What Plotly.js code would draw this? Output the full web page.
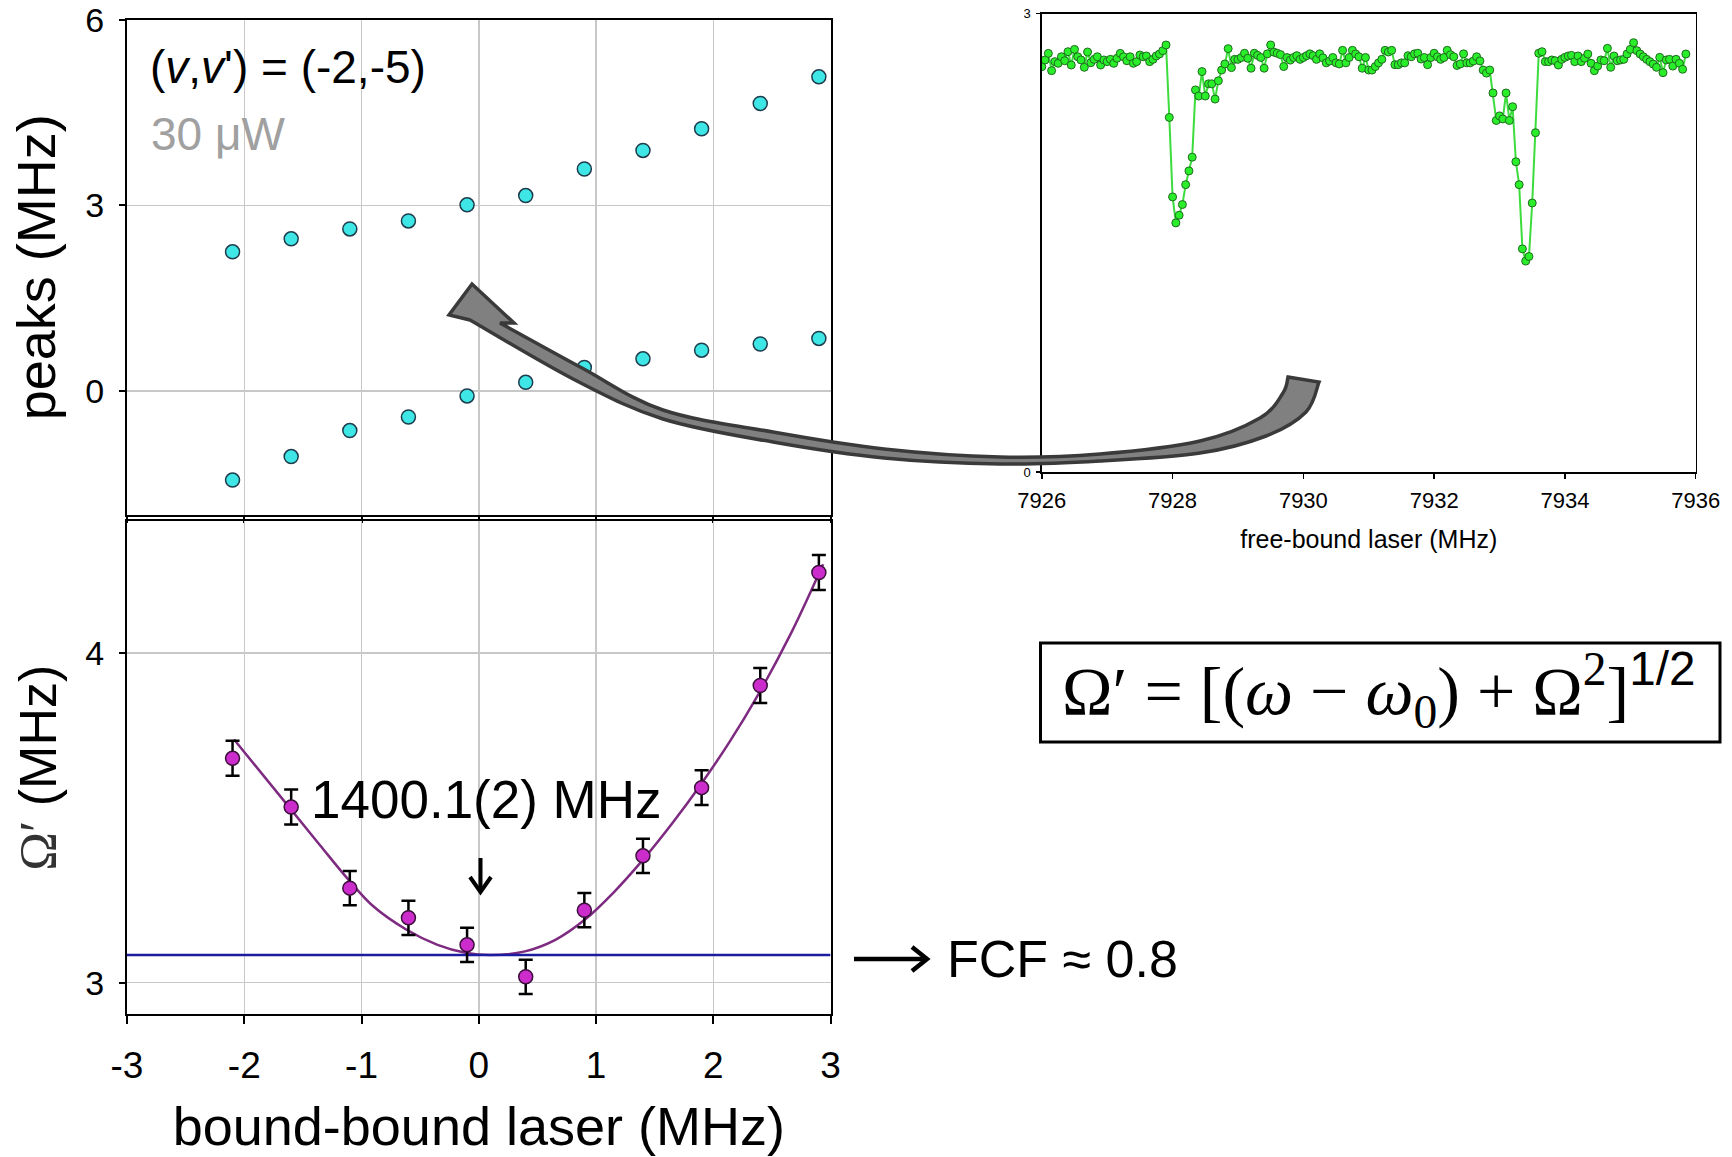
<!DOCTYPE html>
<html>
<head>
<meta charset="utf-8">
<script src="https://cdn.plot.ly/plotly-3.0.1.min.js"></script>
<style>html,body{margin:0;padding:0;background:#fff;}#chart{width:1732px;height:1157px;}</style>
</head>
<body>
<div id="chart"></div>
<script>
// ---------------- data ----------------
const bbDetuning = [-2.1, -1.6, -1.1, -0.6, -0.1, 0.4, 0.9, 1.4, 1.9, 2.4, 2.9];
const peakUpper  = [2.25, 2.46, 2.62, 2.75, 3.01, 3.16, 3.59, 3.89, 4.24, 4.65, 5.08];
const peakLower  = [-1.44, -1.06, -0.64, -0.42, -0.08, 0.14, 0.38, 0.52, 0.66, 0.76, 0.85];
const omegaPrime    = [3.681, 3.533, 3.287, 3.197, 3.115, 3.018, 3.220, 3.385, 3.592, 3.902, 4.245];
const omegaPrimeErr = [0.053, 0.053, 0.052, 0.052, 0.052, 0.052, 0.052, 0.052, 0.053, 0.053, 0.053];
const fitX = [-2.087, -1.616, -1.356, -1.110, -0.900, -0.612, -0.352, -0.114, 0.105, 0.393, 0.653, 0.900, 1.155, 1.397, 1.658, 1.886, 2.137, 2.379, 2.662, 2.936];
const fitY = [3.738, 3.532, 3.418, 3.312, 3.232, 3.160, 3.115, 3.091, 3.084, 3.095, 3.130, 3.190, 3.276, 3.372, 3.488, 3.598, 3.730, 3.872, 4.060, 4.270];
const fcfLevel = 3.084;
const fcfSpan = [-3, 3];
const bbTickVals = [-3, -2, -1, 0, 1, 2, 3];
const bbTickText = ['-3', '-2', '-1', '0', '1', '2', '3'];

const freeBoundX = [
7926.00,7926.05,7926.10,7926.15,7926.20,7926.25,7926.30,7926.35,7926.40,7926.45,
7926.50,7926.55,7926.60,7926.65,7926.70,7926.75,7926.80,7926.85,7926.90,7926.95,
7927.00,7927.05,7927.10,7927.15,7927.20,7927.25,7927.30,7927.35,7927.40,7927.45,
7927.50,7927.55,7927.60,7927.65,7927.70,7927.75,7927.80,7927.85,7927.90,7927.95,
7928.00,7928.05,7928.10,7928.15,7928.20,7928.25,7928.30,7928.35,7928.40,7928.45,
7928.50,7928.55,7928.60,7928.65,7928.70,7928.75,7928.80,7928.85,7928.90,7928.95,
7929.00,7929.05,7929.10,7929.15,7929.20,7929.25,7929.30,7929.35,7929.40,7929.45,
7929.50,7929.55,7929.60,7929.65,7929.70,7929.75,7929.80,7929.85,7929.90,7929.95,
7930.00,7930.05,7930.10,7930.15,7930.20,7930.25,7930.30,7930.35,7930.40,7930.45,
7930.50,7930.55,7930.60,7930.65,7930.70,7930.75,7930.80,7930.85,7930.90,7930.95,
7931.00,7931.05,7931.10,7931.15,7931.20,7931.25,7931.30,7931.35,7931.40,7931.45,
7931.50,7931.55,7931.60,7931.65,7931.70,7931.75,7931.80,7931.85,7931.90,7931.95,
7932.00,7932.05,7932.10,7932.15,7932.20,7932.25,7932.30,7932.35,7932.40,7932.45,
7932.50,7932.55,7932.60,7932.65,7932.70,7932.75,7932.80,7932.85,7932.90,7932.95,
7933.00,7933.05,7933.10,7933.15,7933.20,7933.25,7933.30,7933.35,7933.40,7933.45,
7933.50,7933.55,7933.60,7933.65,7933.70,7933.75,7933.80,7933.85,7933.90,7933.95,
7934.00,7934.05,7934.10,7934.15,7934.20,7934.25,7934.30,7934.35,7934.40,7934.45,
7934.50,7934.55,7934.60,7934.65,7934.70,7934.75,7934.80,7934.85,7934.90,7934.95,
7935.00,7935.05,7935.10,7935.15,7935.20,7935.25,7935.30,7935.35,7935.40,7935.45,
7935.50,7935.55,7935.60,7935.65,7935.70,7935.75,7935.80,7935.85];

const freeBoundY = [
// 7926.00 - 7927.90
2.652,2.696,2.739,2.626,2.685,2.674,2.717,2.691,2.750,2.663,
2.765,2.717,2.696,2.648,2.748,2.678,2.700,2.717,2.663,2.696,
2.685,2.700,2.674,2.707,2.739,2.717,2.691,2.717,2.674,2.685,
2.728,2.717,2.722,2.685,2.700,2.722,2.735,2.757,2.794,
// first dip 7927.95 - 7928.85
2.32,1.80,1.63,1.68,1.75,1.88,1.97,2.06,2.50,2.46,
2.62,2.46,2.54,2.54,2.44,2.56,2.63,2.67,2.77,
// 7928.90 - 7932.70
2.646,2.700,2.700,2.712,2.740,2.707,2.642,2.740,2.726,
2.712,2.642,2.736,2.794,2.747,2.740,2.731,2.653,2.712,2.695,
2.712,2.724,2.700,2.712,2.724,2.736,2.724,2.700,2.736,2.710,
2.677,2.689,2.712,2.677,2.670,2.759,2.677,2.712,2.759,2.735,
2.717,2.642,2.712,2.630,2.630,2.653,2.677,2.700,2.759,2.748,
2.759,2.665,2.665,2.677,2.677,2.724,2.717,2.736,2.740,2.702,
2.712,2.665,2.712,2.740,2.717,2.700,2.712,2.759,2.730,
2.717,2.660,2.670,2.736,2.677,2.677,2.689,2.717,2.690,
// second dip 7932.75 - 7933.65
2.63,2.61,2.63,2.48,2.30,2.33,2.31,2.48,2.30,2.39,
2.03,1.88,1.46,1.38,1.41,1.76,2.22,2.74,2.75,
// 7933.70 - 7935.85
2.685,2.685,2.696,2.691,2.663,2.700,2.713,2.722,2.726,2.685,
2.722,2.685,2.707,2.735,2.674,2.626,2.656,2.696,2.691,2.772,
2.648,2.722,2.691,2.696,2.700,2.735,2.765,2.809,2.757,2.735,
2.717,2.700,2.685,2.669,2.648,2.713,2.613,2.696,2.700,2.656,
2.700,2.674,2.635,2.735];

// ---------------- layout helpers ----------------
const W = 1732, H = 1157;
const fx = p => p / W;
const fy = p => 1 - p / H;
const SANS = 'Liberation Sans, Arial, sans-serif';
const SERIF = 'Liberation Serif, Times New Roman, serif';

const axisBase = {
  showline: true, linecolor: '#000', linewidth: 2, mirror: true, zeroline: false,
  ticks: 'outside', tickcolor: '#000', tickwidth: 2, fixedrange: true, automargin: false,
  tickfont: {family: SANS, color: '#000'}
};
const gridStyle = {showgrid: true, gridcolor: '#c8c8c8', gridwidth: 1.5};

const traces = [
  {type: 'scatter', mode: 'markers', x: bbDetuning, y: peakUpper, xaxis: 'x', yaxis: 'y',
   marker: {size: 14, color: '#3ee6e6', line: {color: '#1e3c4c', width: 1.5}}, showlegend: false},
  {type: 'scatter', mode: 'markers', x: bbDetuning, y: peakLower, xaxis: 'x', yaxis: 'y',
   marker: {size: 14, color: '#3ee6e6', line: {color: '#1e3c4c', width: 1.5}}, showlegend: false},
  {type: 'scatter', mode: 'lines', x: fitX, y: fitY, xaxis: 'x2', yaxis: 'y2',
   line: {color: '#7d2a80', width: 2.5, shape: 'spline', smoothing: 1}, showlegend: false},
  {type: 'scatter', mode: 'lines', x: fcfSpan, y: [fcfLevel, fcfLevel], xaxis: 'x2', yaxis: 'y2',
   line: {color: '#1c1ca0', width: 2.5}, showlegend: false},
  {type: 'scatter', mode: 'markers', x: bbDetuning, y: omegaPrime, xaxis: 'x2', yaxis: 'y2',
   error_y: {type: 'data', array: omegaPrimeErr, color: '#000', thickness: 2.5, width: 7},
   marker: {size: 14, color: '#cc2ccc', line: {color: '#3a103a', width: 1.5}}, showlegend: false},
  {type: 'scatter', mode: 'lines+markers', x: freeBoundX, y: freeBoundY, xaxis: 'x3', yaxis: 'y3',
   line: {color: '#3ddc3d', width: 2},
   marker: {size: 8, color: '#2aee2a', line: {color: '#1f6a1f', width: 1}}, showlegend: false}
];

// ---------- decorations (pixel positions converted to paper fractions) ----------
const P = p => fx(p[0]).toFixed(5) + ',' + fy(p[1]).toFixed(5);
function smooth(pts) {
  let s = '';
  for (let i = 0; i < pts.length - 1; i++) {
    const p0 = pts[Math.max(i - 1, 0)], p1 = pts[i], p2 = pts[i + 1], p3 = pts[Math.min(i + 2, pts.length - 1)];
    const c1 = [p1[0] + (p2[0] - p0[0]) / 6, p1[1] + (p2[1] - p0[1]) / 6];
    const c2 = [p2[0] - (p3[0] - p1[0]) / 6, p2[1] - (p3[1] - p1[1]) / 6];
    s += ' C ' + P(c1) + ' ' + P(c2) + ' ' + P(p2);
  }
  return s;
}
const outerEdge = [[1319,382],[1306,412],[1266,436],[1200,453],[1100,461],[1000,464],[884,458],[773,442],[663,419],[575,380],[470,320]];
const innerEdge = [[500,323],[582,368],[663,410],[773,432],[884,449],[1000,457],[1100,454],[1200,441],[1260,418],[1283,393],[1288,377]];
const arrowPath = 'M ' + P([1288,377]) + ' L ' + P(outerEdge[0]) + smooth(outerEdge) +
  ' L ' + P([449,315]) + ' L ' + P([472,284]) + ' L ' + P([514,323]) + ' L ' + P(innerEdge[0]) +
  smooth(innerEdge) + ' Z';
const downArrowHead = 'M ' + P([470,877]) + ' L ' + P([480.5,892]) + ' L ' + P([491,877]);
const rightArrowHead = 'M ' + P([912,947]) + ' L ' + P([927,959]) + ' L ' + P([912,971]);

const layout = {
  width: W, height: H,
  margin: {l: 0, r: 0, t: 0, b: 0},
  paper_bgcolor: '#fff', plot_bgcolor: 'rgba(0,0,0,0)',
  showlegend: false,
  font: {family: SANS, color: '#000'},
  xaxis: Object.assign({}, axisBase, gridStyle, {
    domain: [fx(127), fx(830.6)], anchor: 'y', range: [-3, 3], tickvals: bbTickVals,
    showticklabels: false, ticklen: 6}),
  yaxis: Object.assign({}, axisBase, gridStyle, {
    domain: [fy(514.7), fy(19.9)], anchor: 'x', range: [-2, 6], tick0: 0, dtick: 3,
    ticklen: 6, ticklabelstandoff: 8, tickfont: {family: SANS, size: 34, color: '#000'},
    title: {text: 'peaks (MHz)', standoff: 12, font: {family: SANS, size: 54, color: '#000'}}}),
  xaxis2: Object.assign({}, axisBase, gridStyle, {
    domain: [fx(127), fx(830.6)], anchor: 'y2', range: [-3, 3], tickvals: bbTickVals, ticktext: bbTickText,
    ticklen: 8, ticklabelstandoff: 10, tickfont: {family: SANS, size: 37, color: '#000'},
    title: {text: 'bound-bound laser (MHz)', standoff: 22, font: {family: SANS, size: 54, color: '#000'}}}),
  yaxis2: Object.assign({}, axisBase, gridStyle, {
    domain: [fy(1014), fy(521.4)], anchor: 'x2', range: [2.905, 4.4], tick0: 3, dtick: 1,
    ticklen: 6, ticklabelstandoff: 8, tickfont: {family: SANS, size: 34, color: '#000'},
    title: {text: '<span style="font-family:Liberation Serif;color:#333">\u03a9\u2032</span> (MHz)', standoff: 12,
            font: {family: SANS, size: 52, color: '#000'}}}),
  xaxis3: Object.assign({}, axisBase, {
    domain: [fx(1041.8), fx(1695.7)], anchor: 'y3', range: [7926, 7936], tick0: 7926, dtick: 2,
    showgrid: false, linewidth: 1.5, tickwidth: 1.5, ticklen: 5, ticklabelstandoff: 3,
    tickfont: {family: SANS, size: 22, color: '#000'},
    title: {text: 'free-bound laser (MHz)', standoff: 18, font: {family: SANS, size: 25, color: '#000'}}}),
  yaxis3: Object.assign({}, axisBase, {
    domain: [fy(472), fy(13.5)], anchor: 'x3', range: [0, 3], tick0: 0, dtick: 3,
    showgrid: false, linewidth: 1.5, tickwidth: 1.5, ticklen: 4, ticklabelstandoff: 3,
    tickfont: {family: SANS, size: 13, color: '#000'}}),
  shapes: [
    {type: 'path', xref: 'paper', yref: 'paper', path: arrowPath, layer: 'above',
     fillcolor: '#808080', line: {color: '#3a3a3a', width: 3.5}},
    {type: 'rect', xref: 'paper', yref: 'paper', x0: fx(1040.5), x1: fx(1720), y0: fy(742), y1: fy(643),
     line: {color: '#000', width: 3}, fillcolor: 'rgba(0,0,0,0)'},
    {type: 'line', xref: 'paper', yref: 'paper', x0: fx(480.5), x1: fx(480.5), y0: fy(858), y1: fy(890),
     line: {color: '#000', width: 4}},
    {type: 'path', xref: 'paper', yref: 'paper', path: downArrowHead, line: {color: '#000', width: 4}},
    {type: 'line', xref: 'paper', yref: 'paper', x0: fx(854), x1: fx(925), y0: fy(959), y1: fy(959),
     line: {color: '#000', width: 4.5}},
    {type: 'path', xref: 'paper', yref: 'paper', path: rightArrowHead, line: {color: '#000', width: 4.5}}
  ],
  annotations: [
    {xref: 'paper', yref: 'paper', x: fx(148), y: fy(67), xanchor: 'left', yanchor: 'middle', showarrow: false,
     text: '(<i>v</i>,<i>v</i>\') = (-2,-5)', font: {family: SANS, size: 46, color: '#000'}},
    {xref: 'paper', yref: 'paper', x: fx(149), y: fy(134), xanchor: 'left', yanchor: 'middle', showarrow: false,
     text: '30 \u03bcW', font: {family: SANS, size: 46, color: '#a0a0a0'}},
    {xref: 'paper', yref: 'paper', x: fx(486), y: fy(799), xanchor: 'center', yanchor: 'middle', showarrow: false,
     text: '1400.1(2) MHz', font: {family: SANS, size: 53, color: '#000'}},
    {xref: 'paper', yref: 'paper', x: fx(1062), y: fy(959), xanchor: 'center', yanchor: 'middle', showarrow: false,
     text: 'FCF \u2248 0.8', font: {family: SANS, size: 52, color: '#000'}},
    {xref: 'paper', yref: 'paper', x: fx(1378), y: fy(690), xanchor: 'center', yanchor: 'middle', showarrow: false,
     text: '\u03a9\u2032 = [(<i>\u03c9</i> \u2212 <i>\u03c9</i><sub>0</sub>) + \u03a9<sup>2</sup>]<sup><span style="font-family:Liberation Sans">1/2</span></sup>',
     font: {family: SERIF, size: 68, color: '#000'}}
  ]
};

Plotly.newPlot('chart', traces, layout, {staticPlot: true, displayModeBar: false});
</script>
</body>
</html>
